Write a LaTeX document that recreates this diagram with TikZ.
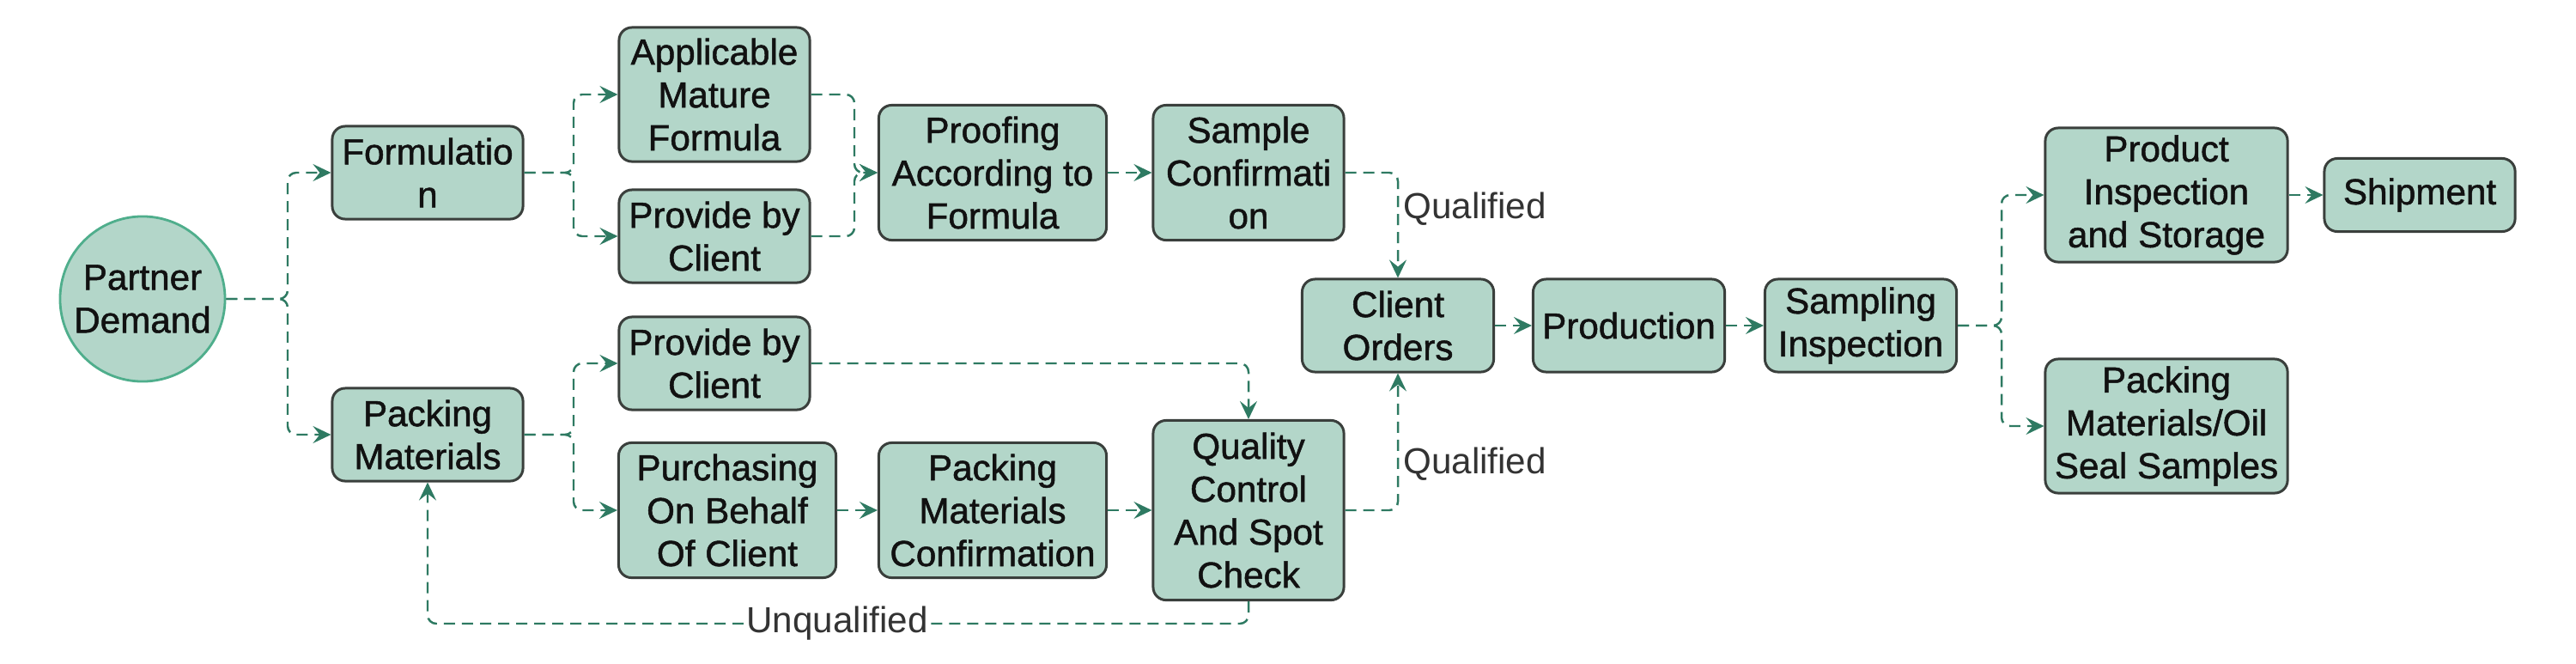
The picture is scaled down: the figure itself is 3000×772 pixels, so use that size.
\documentclass[tikz,border=0pt]{standalone}
\usepackage{fontspec}
\setmainfont{Liberation Sans}
\newfontfamily\boxfont{Liberation Sans}[FakeBold=1.2]
\usetikzlibrary{arrows.meta}
\definecolor{boxfill}{HTML}{B3D6C9}
\definecolor{boxline}{HTML}{3A3F3C}
\definecolor{circline}{HTML}{4FAE8C}
\definecolor{connc}{HTML}{2E7A62}
\definecolor{lblc}{HTML}{333333}
\definecolor{txtc}{HTML}{111111}
\begin{document}
\begin{tikzpicture}[x=0.01cm,y=-0.01cm,
  box/.style={draw=boxline, line width=0.85pt, fill=boxfill, rounded corners=0.15cm,
    align=center, text=txtc, font=\boxfont\fontsize{12}{14.2}\selectfont, inner sep=0pt,
    minimum width=2.22cm, minimum height=1.08cm},
  link/.style={draw=connc, line width=0.7pt, dash pattern=on 0.13cm off 0.08cm,
    rounded corners=0.1cm, -{Stealth[length=2.1mm,width=2mm,inset=0.8mm]}},
  lab/.style={text=lblc, font=\fontsize{12}{14.2}\selectfont, inner sep=1pt}]
\useasboundingbox (0,0) rectangle (3000,772);

\node[circle, draw=circline, line width=0.8pt, fill=boxfill, minimum size=1.92cm,
  inner sep=0pt, align=center, text=txtc, font=\boxfont\fontsize{12}{14.2}\selectfont]
  (pd) at (166,348) {Partner\\Demand};

\node[box] (form) at (498,201) {Formulatio\\n};
\node[box] (pack) at (498,506) {Packing\\Materials};
\node[box, minimum height=1.56cm] (amf) at (832,110) {Applicable\\Mature\\Formula};
\node[box] (pbc1) at (832,275) {Provide by\\Client};
\node[box] (pbc2) at (832,423) {Provide by\\Client};
\node[box, minimum width=2.53cm, minimum height=1.57cm] (poc) at (847,594) {Purchasing\\On Behalf\\Of Client};
\node[box, minimum width=2.65cm, minimum height=1.57cm] (proof) at (1156,201) {Proofing\\According to\\Formula};
\node[box, minimum height=1.57cm] (sc) at (1454,201) {Sample\\Confirmati\\on};
\node[box, minimum width=2.65cm, minimum height=1.57cm] (pmc) at (1156,594) {Packing\\Materials\\Confirmation};
\node[box, minimum height=2.09cm] (qc) at (1454,594) {Quality\\Control\\And Spot\\Check};
\node[box, minimum width=2.23cm] (co) at (1628,379) {Client\\Orders};
\node[box, minimum width=2.23cm] (prod) at (1897,379) {Production};
\node[box, minimum width=2.23cm] (si) at (2167,379) {Sampling\\Inspection};
\node[box, minimum width=2.82cm, minimum height=1.56cm] (pis) at (2523,227) {Product\\Inspection\\and Storage};
\node[box, minimum height=0.85cm] (ship) at (2818,227) {Shipment};
\node[box, minimum width=2.82cm, minimum height=1.56cm] (pmos) at (2523,496) {Packing\\Materials/Oil\\Seal Samples};

\coordinate (j1) at (335,348);
\coordinate (j2) at (668,201);
\coordinate (j3) at (995,201);
\coordinate (j4) at (668,506);
\coordinate (j5) at (1454,726);
\coordinate (j6) at (2331,379);

\draw[link] (pd.east) -- (j1) |- (form.west);
\draw[link] (pd.east) -- (j1) |- (pack.west);
\draw[link] (form.east) -- (j2) |- (amf.west);
\draw[link] (form.east) -- (j2) |- (pbc1.west);
\draw[link] (amf.east) -| (j3) -- (proof.west);
\draw[link] (pbc1.east) -| (j3) -- (proof.west);
\draw[link] (proof) -- (sc);
\draw[link] (sc.east) -| (co.north);
\draw[link] (pack.east) -- (j4) |- (pbc2.west);
\draw[link] (pack.east) -- (j4) |- (poc.west);
\draw[link] (pbc2.east) -| (qc.north);
\draw[link] (poc) -- (pmc);
\draw[link] (pmc) -- (qc);
\draw[link] (qc.east) -| (co.south);
\draw[link] (qc.south) -- (j5) -| (pack.south);
\draw[link] (co) -- (prod);
\draw[link] (prod) -- (si);
\draw[link] (si.east) -- (j6) |- (pis.west);
\draw[link] (si.east) -- (j6) |- (pmos.west);
\draw[link] (pis) -- (ship);

\node[lab, anchor=west] (q1) at (1630,243) {Qualified};
\node[lab, anchor=west] (q2) at (1630,540) {Qualified};
\node[lab, fill=white] (uq) at (975,726) {Unqualified};
\end{tikzpicture}
\end{document}
